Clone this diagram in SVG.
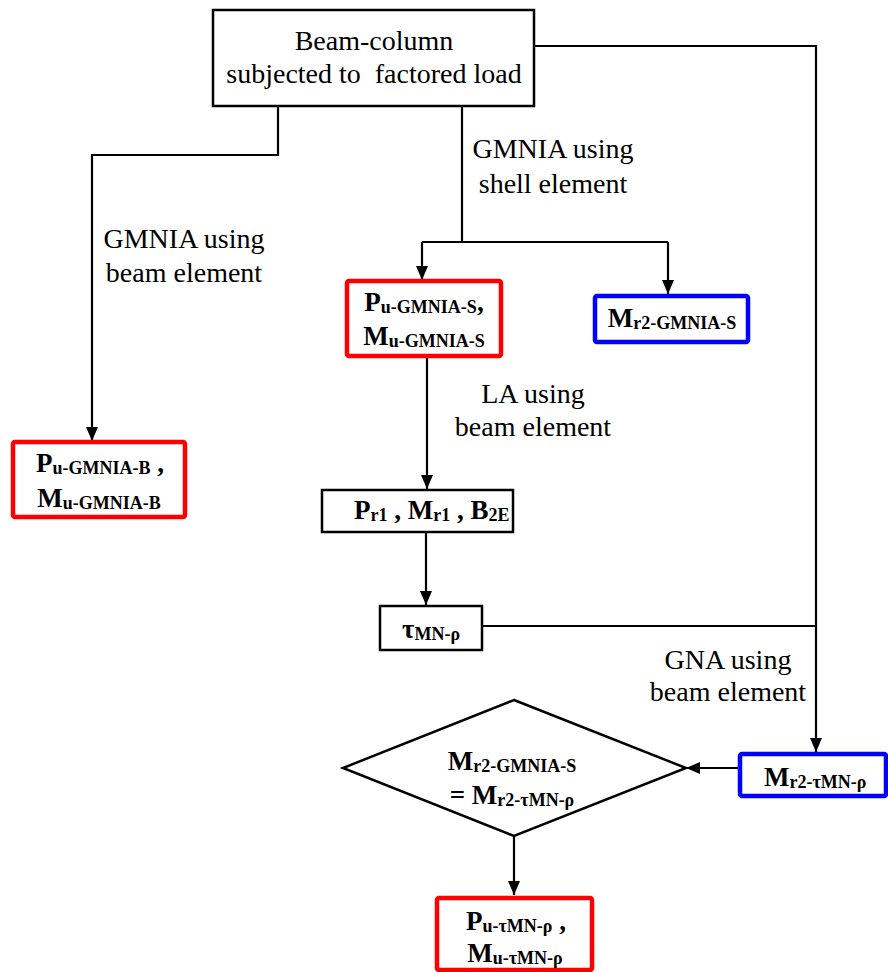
<svg xmlns="http://www.w3.org/2000/svg" width="888" height="972" viewBox="0 0 888 972">
  <style>
    .box { fill: #ffffff; stroke: #000000; stroke-width: 2.5; }
    .red { fill: #ffffff; stroke: #ff0000; stroke-width: 4.5; }
    .blue { fill: #ffffff; stroke: #0000ff; stroke-width: 4.5; }
    .wire { fill: none; stroke: #000000; stroke-width: 2.2; }
    text { font-family: 'Liberation Serif', 'Times New Roman', serif; fill: #000000; }
    .lbl { font-size: 28px; font-weight: normal; }
    .math { font-size: 27px; font-weight: bold; }
    .sub { font-size: 18px; }
  </style>
  <defs>
    <marker id="arrow" viewBox="0 0 14 12" refX="14" refY="6" markerWidth="14" markerHeight="12" markerUnits="userSpaceOnUse" orient="auto">
      <path d="M0,0 L14,6 L0,12 z" fill="#000000"/>
    </marker>
  </defs>

  <!-- connectors and their labels -->
  <g id="connectors">
    <path class="wire" d="M278,106 V155 H92 V441" marker-end="url(#arrow)"/>
    <path class="wire" d="M462,106 V242"/>
    <path class="wire" d="M422,242 H668"/>
    <path class="wire" d="M422,242 V280" marker-end="url(#arrow)"/>
    <path class="wire" d="M668,242 V294" marker-end="url(#arrow)"/>
    <path class="wire" d="M427,356 V489" marker-end="url(#arrow)"/>
    <path class="wire" d="M426,532 V605" marker-end="url(#arrow)"/>
    <path class="wire" d="M534,46 H816 V752" marker-end="url(#arrow)"/>
    <path class="wire" d="M482,626 H816"/>
    <path class="wire" d="M740,768 H686" marker-end="url(#arrow)"/>
    <path class="wire" d="M514,836 V895" marker-end="url(#arrow)"/>
    <text class="lbl" text-anchor="middle" x="184" y="248">GMNIA using</text>
    <text class="lbl" text-anchor="middle" x="184" y="282">beam element</text>
    <text class="lbl" text-anchor="middle" x="553" y="158">GMNIA using</text>
    <text class="lbl" text-anchor="middle" x="553" y="193">shell element</text>
    <text class="lbl" text-anchor="middle" x="533" y="403">LA using</text>
    <text class="lbl" text-anchor="middle" x="533" y="436">beam element</text>
    <text class="lbl" text-anchor="middle" x="728" y="669">GNA using</text>
    <text class="lbl" text-anchor="middle" x="728" y="701">beam element</text>
  </g>

  <!-- start -->
  <g id="start">
    <rect class="box" x="213" y="10" width="321" height="96"/>
    <text class="lbl" text-anchor="middle" x="374" y="50">Beam-column</text>
    <text class="lbl" text-anchor="middle" x="374" y="83" xml:space="preserve">subjected to  factored load</text>
  </g>

  <!-- beam-element GMNIA result -->
  <g id="gmnia-beam">
    <rect class="red" x="13" y="442" width="172" height="75" rx="2"/>
    <text class="math" text-anchor="middle" x="100" y="472">P<tspan class="sub" dy="2">u-GMNIA-B</tspan><tspan dy="-2" xml:space="preserve"> ,</tspan></text>
    <text class="math" text-anchor="middle" x="99" y="507">M<tspan class="sub" dy="2">u-GMNIA-B</tspan></text>
  </g>

  <!-- shell-element GMNIA results -->
  <g id="gmnia-shell">
    <rect class="red" x="347" y="281" width="154" height="75" rx="2"/>
    <text class="math" text-anchor="middle" x="424" y="311">P<tspan class="sub" dy="2">u-GMNIA-S</tspan><tspan dy="-2">,</tspan></text>
    <text class="math" text-anchor="middle" x="424" y="345">M<tspan class="sub" dy="2">u-GMNIA-S</tspan></text>
  </g>

  <g id="mr2-shell">
    <rect class="blue" x="595" y="296" width="153" height="46" rx="2"/>
    <text class="math" text-anchor="middle" x="672" y="327">M<tspan class="sub" dy="2">r2-GMNIA-S</tspan></text>
  </g>

  <!-- linear analysis results -->
  <g id="la-results">
    <rect class="box" x="322" y="490" width="191" height="42"/>
    <text class="math" x="354" y="519">P<tspan class="sub" dy="2">r1</tspan><tspan dy="-2" xml:space="preserve"> , M</tspan><tspan class="sub" dy="2">r1</tspan><tspan dy="-2" xml:space="preserve"> , B</tspan><tspan class="sub" dy="2">2E</tspan></text>
  </g>

  <g id="tau">
    <rect class="box" x="380" y="606" width="102" height="44"/>
    <text class="math" text-anchor="middle" x="431" y="638">τ<tspan class="sub" dy="2">MN-ρ</tspan></text>
  </g>

  <!-- check -->
  <g id="check">
    <polygon class="box" points="514,700 686,768 514,836 343,768"/>
    <text class="math" text-anchor="middle" x="512" y="770">M<tspan class="sub" dy="2">r2-GMNIA-S</tspan></text>
    <text class="math" text-anchor="middle" x="512" y="804">= M<tspan class="sub" dy="2">r2-τMN-ρ</tspan></text>
  </g>

  <g id="mr2-gna">
    <rect class="blue" x="740" y="754" width="146" height="42" rx="2"/>
    <text class="math" x="764" y="786">M<tspan class="sub" dy="2">r2-τMN-ρ</tspan></text>
  </g>

  <!-- final result -->
  <g id="final">
    <rect class="red" x="437" y="898" width="155" height="72" rx="2"/>
    <text class="math" text-anchor="middle" x="516" y="930">P<tspan class="sub" dy="2">u-τMN-ρ</tspan><tspan dy="-2" xml:space="preserve"> ,</tspan></text>
    <text class="math" text-anchor="middle" x="515" y="962">M<tspan class="sub" dy="2">u-τMN-ρ</tspan></text>
  </g>
</svg>
